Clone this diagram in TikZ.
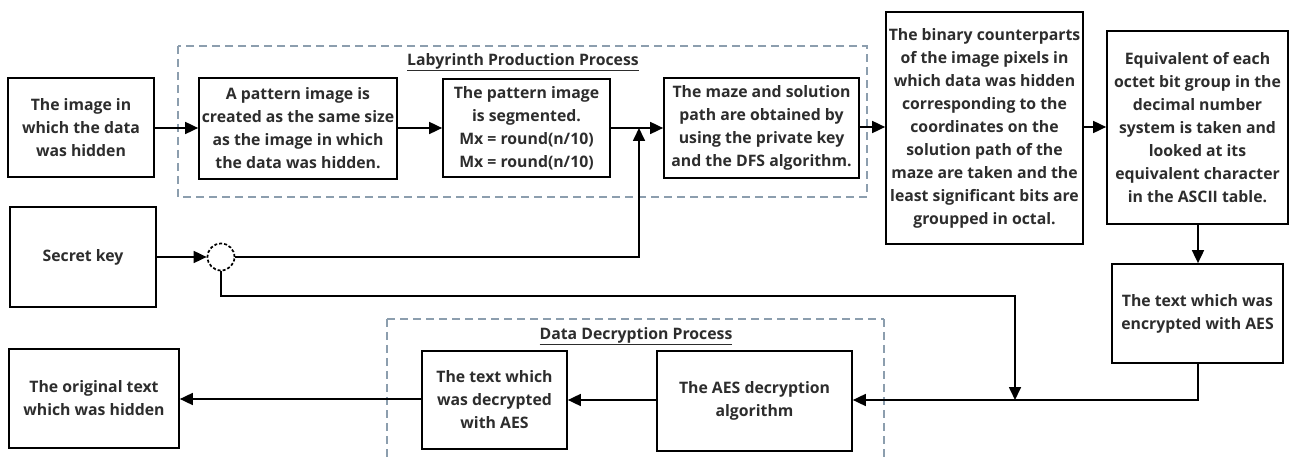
\documentclass[tikz,border=0pt]{standalone}
\usepackage{fontspec}
\setmainfont{Open Sans}
\usetikzlibrary{arrows.meta}
\definecolor{txt}{RGB}{45,45,45}
\definecolor{dashc}{RGB}{140,158,174}
\tikzset{
  box/.style={draw=black, line width=1.7pt, fill=white, align=center, text=txt,
    font=\fontsize{15.8}{23}\selectfont\bfseries, inner sep=0pt},
  conn/.style={line width=1.7pt, draw=black},
  arr/.style={conn, -{Triangle[length=13pt,width=12pt]}},
  group/.style={draw=dashc, line width=2.5pt, dash pattern=on 8pt off 5pt},
  gtitle/.style={text=txt, font=\fontsize{15.8}{20}\selectfont\bfseries, inner sep=0pt},
}
\begin{document}
\begin{tikzpicture}[x=1pt,y=-1pt]
\useasboundingbox (0,0) rectangle (1291,462);
% groups
\draw[group] (178,46) rectangle (867,197);
\draw[group] (387,319) -- (387,470) (884,319) -- (884,470) (387,319) -- (884,319);
\node[gtitle] (t1) at (523,62) {\underline{Labyrinth Production Process}};
\node[gtitle] (t2) at (636,336) {\underline{Data Decryption Process}};
% nodes
\node[box, minimum width=146pt, minimum height=99pt] (img) at (81,127.5) {The image in\\which the data\\was hidden};
\node[box, minimum width=198pt, minimum height=101pt] (pat) at (298,128.5) {A pattern image is\\created as the same size\\as the image in which\\the data was hidden.};
\node[box, minimum width=167pt, minimum height=98pt] (seg) at (526.5,128) {The pattern image\\is segmented.\\Mx = round(n/10)\\Mx = round(n/10)};
\node[box, minimum width=195pt, minimum height=100pt] (maze) at (761.5,128) {The maze and solution\\path are obtained by\\using the private key\\and the DFS algorithm.};
\node[box, minimum width=197pt, minimum height=232pt] (bin) at (984.5,128) {The binary counterparts\\of the image pixels in\\which data was hidden\\corresponding to the\\coordinates on the\\solution path of the\\maze are taken and the\\least significant bits are\\groupped in octal.};
\node[box, minimum width=181pt, minimum height=193pt] (equ) at (1197.5,127.5) {Equivalent of each\\octet bit group in the\\decimal number\\system is taken and\\looked at its\\equivalent character\\in the ASCII table.};
\node[box, minimum width=171pt, minimum height=99pt] (enc) at (1197.5,313.5) {The text which was\\encrypted with AES};
\node[box, minimum width=146pt, minimum height=100pt] (key) at (83,257) {Secret key};
\node[draw=black, line width=1.7pt, dash pattern=on 3pt off 2pt, circle, minimum size=27pt, inner sep=0pt, fill=white] (cir) at (221,257) {};
\node[box, minimum width=170pt, minimum height=99pt] (orig) at (94,398.5) {The original text\\which was hidden};
\node[box, minimum width=145pt, minimum height=98pt] (dec) at (494.5,400) {The text which\\was decrypted\\with AES};
\node[box, minimum width=195pt, minimum height=100pt] (aes) at (754.5,401) {The AES decryption\\algorithm};
\coordinate (j1) at (639,128);
\coordinate (j2) at (1015,400);
% connectors
\draw[arr] (img.east |- 0,128) -- (pat.west |- 0,128);
\draw[arr] (pat.east |- 0,128) -- (seg.west |- 0,128);
\draw[arr] (seg.east |- 0,128) -- (maze.west |- 0,128);
\draw[arr] (maze.east |- 0,127) -- (bin.west |- 0,127);
\draw[arr] (bin.east |- 0,127) -- (equ.west |- 0,127);
\draw[arr] (equ.south -| 1198,0) -- (enc.north -| 1198,0);
\draw[arr] (enc.south -| 1198,0) |- (aes.east |- 0,400);
\draw[arr] (key.east) -- (cir.west);
\draw[arr] (cir.east) -| (j1);
\draw[arr] (cir.south) |- (1015,296) -- (j2);
\draw[arr] (aes.west |- 0,400) -- (dec.east |- 0,400);
\draw[arr] (dec.west |- 0,399) -- (orig.east |- 0,399);
\end{tikzpicture}
\end{document}
